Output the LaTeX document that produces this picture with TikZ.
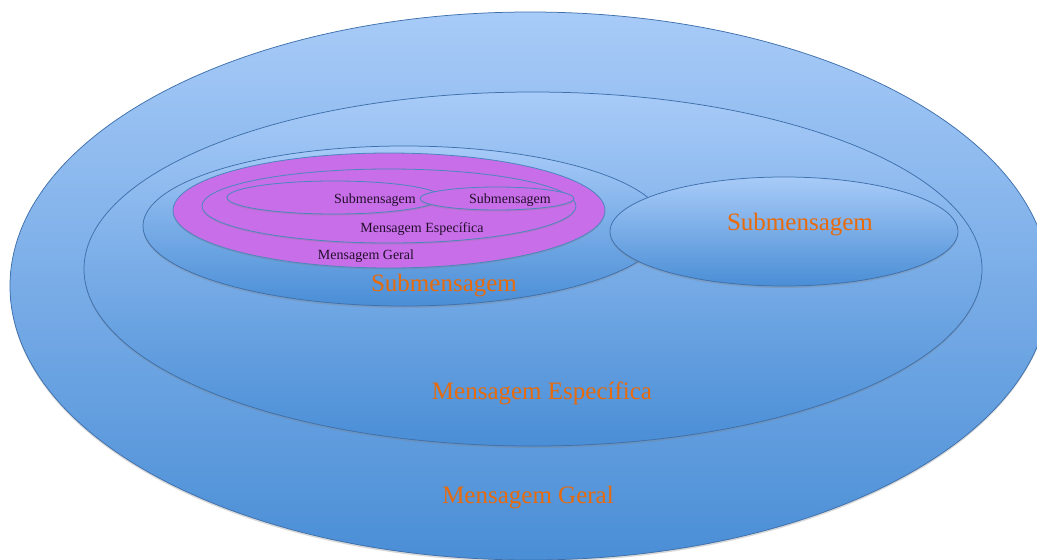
\documentclass[tikz,border=0pt]{standalone}
\usepackage{fontspec}
\setmainfont{Liberation Serif}
\usetikzlibrary{shadows}
\definecolor{bluetop}{RGB}{168,203,248}
\definecolor{bluebot}{RGB}{74,142,214}
\definecolor{edgeblue}{RGB}{62,112,172}
\definecolor{purplefill}{RGB}{200,110,232}
\definecolor{purpleedge}{RGB}{75,135,190}
\definecolor{orangetxt}{RGB}{232,106,10}
\definecolor{darktxt}{RGB}{35,15,45}
\tikzset{
  blueell/.style={draw=edgeblue, line width=0.75pt, top color=bluetop, bottom color=bluebot,
    drop shadow={shadow xshift=0pt, shadow yshift=-2pt, opacity=0.3}},
  purpleell/.style={draw=purpleedge, line width=0.8pt, fill=purplefill,
    drop shadow={shadow xshift=0pt, shadow yshift=-1.5pt, opacity=0.3}},
  biglabel/.style={anchor=base, text=orangetxt, font=\fontsize{25}{28}\selectfont, inner sep=0pt},
  smalllabel/.style={anchor=base, text=darktxt, font=\fontsize{14}{16}\selectfont, inner sep=0pt}
}
\begin{document}
\begin{tikzpicture}[x=1pt,y=-1pt]
\fill[white] (0,0) rectangle (1037,560);
\clip (0,0) rectangle (1037,560);
% outer: Mensagem Geral
\path[blueell] (530,286) ellipse [x radius=520, y radius=274];
% Mensagem Especifica
\path[blueell] (533,269) ellipse [x radius=449, y radius=177];
% left Submensagem
\path[blueell] (404,226) ellipse [x radius=261, y radius=80];
% right Submensagem
\path[blueell] (784,231.5) ellipse [x radius=174, y radius=54.5];
% purple group
\path[purpleell] (389,210.5) ellipse [x radius=216, y radius=57.5];
\path[purpleell] (389,206) ellipse [x radius=187, y radius=37];
\path[purpleell] (334,197.5) ellipse [x radius=107, y radius=16.5];
\path[purpleell] (497,198.5) ellipse [x radius=77, y radius=11.5];
% labels
\node[smalllabel] (ps1) at (375,203) {Submensagem};
\node[smalllabel] (ps2) at (510,203) {Submensagem};
\node[smalllabel] (pme) at (422,232) {Mensagem Específica};
\node[smalllabel] (pmg) at (366,259) {Mensagem Geral};
\node[biglabel] (bs1) at (444,291) {Submensagem};
\node[biglabel] (bs2) at (800,230) {Submensagem};
\node[biglabel] (bme) at (542,399) {Mensagem Específica};
\node[biglabel] (bmg) at (528,503) {Mensagem Geral};
\end{tikzpicture}
\end{document}
